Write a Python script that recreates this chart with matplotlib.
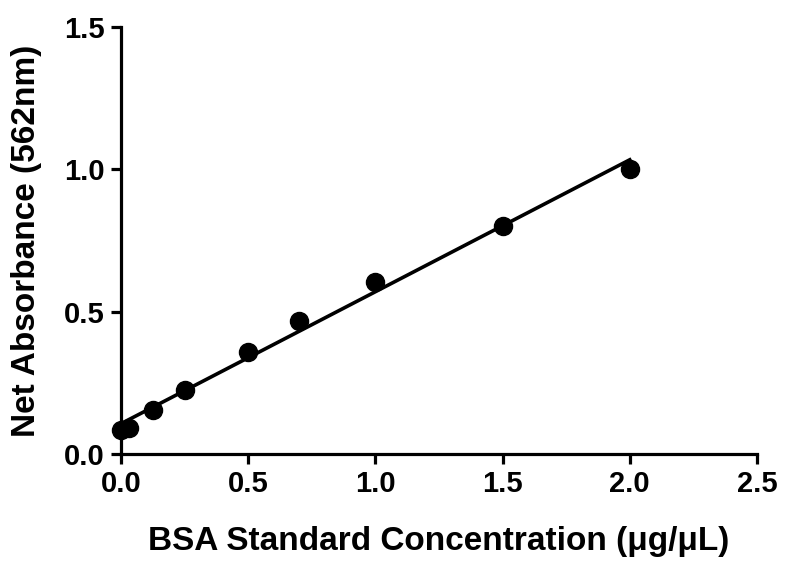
import matplotlib
matplotlib.use("Agg")
import matplotlib.pyplot as plt
import numpy as np

# BSA standards
conc = [0.0, 0.03, 0.125, 0.25, 0.5, 0.7, 1.0, 1.5, 2.0]
absorb = [0.084, 0.091, 0.155, 0.225, 0.358, 0.467, 0.604, 0.80, 1.00]

x_ticks = [0.0, 0.5, 1.0, 1.5, 2.0, 2.5]
y_ticks = [0.0, 0.5, 1.0, 1.5]

plt.rcParams['font.family'] = ['Liberation Sans', 'DejaVu Sans']
plt.rcParams['font.weight'] = 'bold'

fig = plt.figure(figsize=(7.86, 5.63), dpi=100)
ax = fig.add_axes([0.154, 0.194, 0.809, 0.758])

# linear regression line over the standard range
slope, intercept = np.polyfit(conc, absorb, 1)
fit_x = np.array([min(conc), max(conc)])
ax.plot(fit_x, slope * fit_x + intercept, color='black', linewidth=2.6, clip_on=False)

ax.plot(conc, absorb, 'o', color='black', markersize=13, clip_on=False, zorder=3)

ax.set_xlim(0, 2.5)
ax.set_ylim(0, 1.5)
ax.set_xticks(x_ticks)
ax.set_yticks(y_ticks)
ax.set_xticklabels([f"{t:.1f}" for t in x_ticks])
ax.set_yticklabels([f"{t:.1f}" for t in y_ticks])

for side in ['top', 'right']:
    ax.spines[side].set_visible(False)
for side in ['left', 'bottom']:
    ax.spines[side].set_linewidth(2.3)

ax.tick_params(axis='both', which='major', direction='out', length=7.5, width=2.3,
               labelsize=21, pad=4)
for lbl in ax.get_xticklabels() + ax.get_yticklabels():
    lbl.set_fontweight('bold')

ax.set_xlabel("BSA Standard Concentration (μg/μL)", fontsize=24, fontweight='bold')
ax.set_ylabel("Net Absorbance (562nm)", fontsize=24, fontweight='bold')
ax.xaxis.set_label_coords(0.5, -0.17)
ax.yaxis.set_label_coords(-0.125, 0.5)

fig.savefig("out.png", dpi=100)
